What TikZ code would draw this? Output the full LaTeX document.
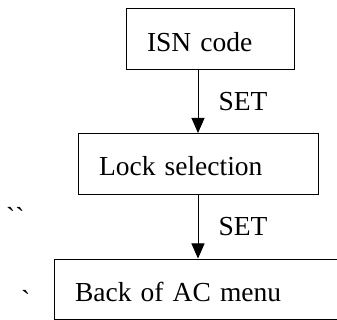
\documentclass[tikz,border=0pt]{standalone}
\usepackage{fontspec}
\setmainfont{Liberation Serif}
\newfontfamily\rawserif[Ligatures=ResetAll]{Liberation Serif}
\usetikzlibrary{arrows.meta}

\tikzset{
  menubox/.style={draw, line width=1pt, rectangle, align=left, inner xsep=21pt,
    text height=24pt, text depth=0pt, minimum height=61pt},
  setarrow/.style={line width=1pt, -{Triangle[width=13pt,length=15pt]}},
  setlabel/.style={right=20pt, inner sep=0pt}
}

\begin{document}
\begin{tikzpicture}[x=1pt, y=-1pt, font=\fontsize{27.5}{30}\selectfont]
	\useasboundingbox (0,0) rectangle (337,320);

	% the three menu boxes
	\node[menubox, text width=126pt] (isn) at (210,39.5) {ISN code};
	\node[menubox, text width=198pt] (lock) at (198,164) {Lock selection};
	\node[menubox, text width=241pt, minimum height=60pt] (back) at (195.5,289) {Back of AC menu};

	% SET steps
	\draw[setarrow] (lock.north |- isn.south) -- node[setlabel] (set1) {SET} (lock.north);
	\draw[setarrow] (lock.south) -- node[setlabel] (set2) {SET} (lock.south |- back.north);

	% stray marks
	\node[anchor=base west, inner sep=0pt, font=\fontsize{27.5}{30}\rawserif] (tick1) at (6,227) {``};
	\node[anchor=base west, inner sep=0pt, font=\fontsize{27.5}{30}\rawserif] (tick2) at (21,309) {`};
\end{tikzpicture}
\end{document}
